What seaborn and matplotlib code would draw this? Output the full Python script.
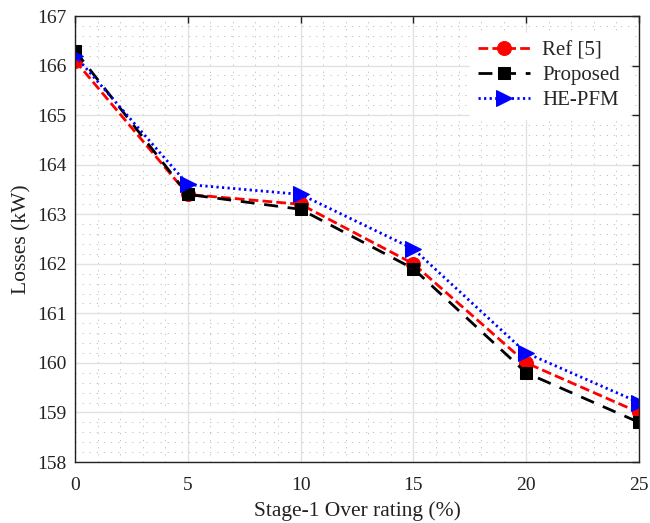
import matplotlib
matplotlib.use("Agg")
import matplotlib.pyplot as plt
import seaborn as sns
import pandas as pd
from matplotlib.ticker import MultipleLocator

over_rating = [0, 5, 10, 15, 20, 25]
ref5 = [166.1, 163.4, 163.2, 162.0, 160.0, 159.0]
proposed = [166.3, 163.4, 163.1, 161.9, 159.8, 158.8]
he_pfm = [166.2, 163.6, 163.4, 162.3, 160.2, 159.2]
series_names = ["Ref [5]", "Proposed", "HE-PFM"]

sns.set_theme(style="white")
plt.rcParams['font.family'] = ['Liberation Serif', 'DejaVu Serif']
plt.rcParams['mathtext.fontset'] = 'stix'

fig = plt.figure(figsize=(6.5, 5.23), dpi=100)
ax = fig.add_axes([0.1154, 0.1166, 0.8677, 0.8528])

styles = [
    dict(color="red", marker="o", markersize=10, dashes=(3.5, 1.5)),
    dict(color="black", marker="s", markersize=9, dashes=(5, 3.5)),
    dict(color="blue", marker=">", markersize=11, dashes=(0.8, 1.2)),
]
for name, vals, st in zip(series_names, [ref5, proposed, he_pfm], styles):
    df = pd.DataFrame({"x": over_rating, "y": vals})
    l = sns.lineplot(data=df, x="x", y="y", ax=ax, color=st["color"], marker=st["marker"],
                     markersize=st["markersize"], markeredgecolor=st["color"],
                     linewidth=2, label=name)
    l.lines[-1].set_dashes(st["dashes"])

ax.set_xlim(0, 25)
ax.set_ylim(158, 167)
ax.xaxis.set_major_locator(MultipleLocator(5))
ax.xaxis.set_minor_locator(MultipleLocator(1))
ax.yaxis.set_major_locator(MultipleLocator(1))
ax.yaxis.set_minor_locator(MultipleLocator(0.2))
ax.grid(which="major", color="#e2e2e2", linewidth=1.0, linestyle="-")
ax.grid(which="minor", color="#b8b8b8", linewidth=0.6, linestyle=(0, (1.5, 7)))
ax.set_axisbelow(True)
ax.tick_params(which="major", direction="in", length=5, width=1, top=True, right=True,
               labelsize=14, colors="#222222")
ax.tick_params(axis="x", which="major", pad=11)
ax.tick_params(axis="y", which="major", pad=6)
ax.tick_params(which="minor", length=0)
for s in ax.spines.values():
    s.set_color("#222222")
    s.set_linewidth(1)
    s.set_visible(True)

ax.set_xlabel("Stage-1 Over rating (%)", fontsize=15.5, color="#222222", labelpad=5)
ax.set_ylabel("Losses (kW)", fontsize=15.5, color="#222222", labelpad=4)

leg = ax.legend(loc="upper right", bbox_to_anchor=(1.011, 1.0), fontsize=15, frameon=True,
                fancybox=False, edgecolor="white", framealpha=1, handlelength=2.5,
                borderaxespad=0.8, labelspacing=0.25, handletextpad=0.6)

fig.savefig("out.png", dpi=100)
